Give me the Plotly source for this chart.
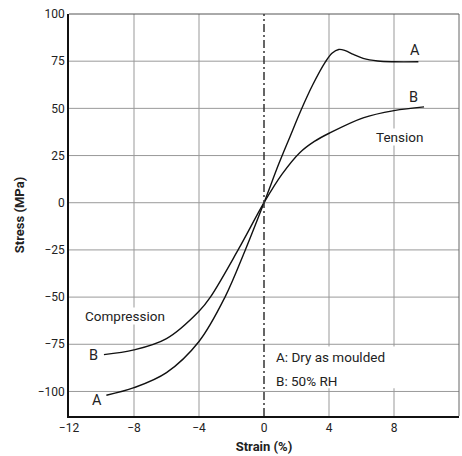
import plotly.graph_objects as go

# Curve A: dry as moulded (compression -> tension)
strain_A = [-9.7, -8.0, -6.0, -4.0, -2.4, -1.15, 0.0, 0.93, 1.6, 2.25, 3.0, 3.77, 4.2, 4.6, 5.0, 5.5, 6.1, 7.0, 8.0, 9.5]
stress_A = [-102, -98, -90, -73.5, -50, -25, 0, 21, 35, 48.5, 62.5, 74.5, 79.3, 81.2, 80.6, 78.6, 76.5, 75.1, 74.7, 74.7]

# Curve B: 50% RH
strain_B = [-9.85, -8.0, -6.0, -4.0, -3.3, -1.56, 0.0, 1.1, 2.2, 3.1, 4.05, 6.1, 8.0, 9.85]
stress_B = [-80.5, -78, -72, -57.5, -50, -24.5, 0, 15, 26.5, 32.5, 37, 45, 48.8, 50.8]

x_ticks = [-12, -8, -4, 0, 4, 8, 12]
y_ticks = [-100, -75, -50, -25, 0, 25, 50, 75, 100]

FONT = "Roboto, Arial, sans-serif"
GRID = "#999999"

fig = go.Figure()

# grid lines (drawn as shapes at the tick positions)
for xv in x_ticks:
    if xv in (-12, 0, 12):
        continue
    fig.add_shape(type="line", xref="x", yref="paper", x0=xv, x1=xv, y0=0, y1=1,
                  line=dict(color=GRID, width=1), layer="below")
for yv in y_ticks:
    if yv == 100:
        continue
    fig.add_shape(type="line", xref="paper", yref="y", x0=0, x1=1, y0=yv, y1=yv,
                  line=dict(color=GRID, width=1), layer="below")

for xs, ys in [(strain_A, stress_A), (strain_B, stress_B)]:
    fig.add_trace(go.Scatter(x=xs, y=ys, mode="lines",
                             line=dict(color="#111111", width=1.4, shape="spline", smoothing=1.0),
                             showlegend=False, hoverinfo="skip"))

fig.update_layout(
    template="none",
    width=462, height=456,
    margin=dict(l=69, r=3, t=14, b=40),
    paper_bgcolor="white", plot_bgcolor="white",
    font=dict(family=FONT, size=12, color="#222222"),
    xaxis=dict(range=[-12, 12], tickmode="array", tickvals=x_ticks, showgrid=False,
               zeroline=False, showline=True, linecolor="#111111", linewidth=1.5, ticks="",
               tickfont=dict(family=FONT, size=12, color="#222222"),
               title=dict(text="<b>Strain (%)</b>", font=dict(family=FONT, size=13, color="#222222"), standoff=8)),
    yaxis=dict(range=[-113, 100], tickmode="array", tickvals=y_ticks, showgrid=False,
               zeroline=False, showline=True, linecolor="#111111", linewidth=1.5, ticks="",
               tickfont=dict(family=FONT, size=12, color="#222222"),
               title=dict(text="<b>Stress (MPa)</b>", font=dict(family=FONT, size=13, color="#222222"), standoff=10)),
)

# top / right frame
fig.add_shape(type="line", xref="paper", yref="paper", x0=0, x1=1, y0=1, y1=1, line=dict(color="#555555", width=1))
fig.add_shape(type="line", xref="paper", yref="paper", x0=1, x1=1, y0=0, y1=1, line=dict(color="#666666", width=1))

# white box behind the key text
fig.add_shape(type="rect", xref="x", yref="y", x0=0.15, x1=11.85, y0=-98.3, y1=-76.2,
              fillcolor="white", line=dict(width=0), layer="above")
# vertical dash-dot line at zero strain
fig.add_shape(type="line", xref="x", yref="paper", x0=0, x1=0, y0=0, y1=1,
              line=dict(color="#333333", width=1.5, dash="8px,3px,2px,3px"), layer="above")

ann_font = dict(family=FONT, size=13.5, color="#222222")
lab_font = dict(family=FONT, size=14.5, color="#222222")
fig.add_annotation(x=9.27, y=80.5, text="A", showarrow=False, font=lab_font, yanchor="middle")
fig.add_annotation(x=9.2, y=55.6, text="B", showarrow=False, font=lab_font, yanchor="middle")
fig.add_annotation(x=-10.49, y=-80.7, text="B", showarrow=False, font=lab_font, yanchor="middle")
fig.add_annotation(x=-10.3, y=-105, text="A", showarrow=False, font=lab_font, yanchor="middle")
fig.add_annotation(x=8.35, y=34.7, text="Tension", showarrow=False, font=ann_font, bgcolor="white", borderpad=0)
fig.add_annotation(x=-8.54, y=-60.2, text="Compression", showarrow=False, font=ann_font, bgcolor="white", borderpad=0)
fig.add_annotation(x=0.6, y=-82, text="A: Dry as moulded", showarrow=False, font=ann_font, xanchor="left")
fig.add_annotation(x=0.6, y=-94.3, text="B: 50% RH", showarrow=False, font=ann_font, xanchor="left")

fig.write_html("out.html")
